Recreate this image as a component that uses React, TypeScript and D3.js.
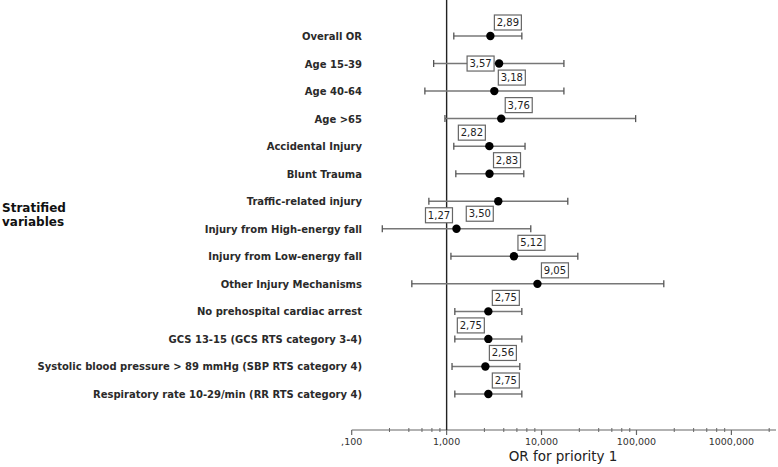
import { useEffect, useRef } from "react";
import * as d3 from "d3";

// rows, top to bottom
const categories = [
  "Overall OR",
  "Age 15-39",
  "Age 40-64",
  "Age >65",
  "Accidental Injury",
  "Blunt Trauma",
  "Traffic-related injury",
  "Injury from High-energy fall",
  "Injury from Low-energy fall",
  "Other Injury Mechanisms",
  "No prehospital cardiac arrest",
  "GCS 13-15 (GCS RTS category 3-4)",
  "Systolic blood pressure > 89 mmHg (SBP RTS category 4)",
  "Respiratory rate 10-29/min (RR RTS category 4)",
];
const oddsRatio = [2.89, 3.57, 3.18, 3.76, 2.82, 2.83, 3.5, 1.27, 5.12, 9.05, 2.75, 2.75, 2.56, 2.75];
const ciLower = [1.19, 0.73, 0.59, 0.96, 1.19, 1.25, 0.65, 0.21, 1.11, 0.43, 1.22, 1.22, 1.14, 1.22];
const ciUpper = [6.2, 17.2, 17.2, 98, 6.7, 6.5, 18.9, 7.7, 24.1, 194, 6.2, 6.2, 5.9, 6.2];
// where the value box sits next to its dot
const labelPlacement = ["ar", "l", "ar", "ar", "al", "ar", "bl", "al", "ar", "ar", "ar", "al", "ar", "ar"];

const tickValues = [0.1, 1, 10, 100, 1000];
const tickLabels = [",100", "1,000", "10,000", "100,000", "1000,000"];
const minorSteps = [2.5, 4, 5.5, 7, 8.5];

const fmt = (v: number) => v.toFixed(2).replace(".", ",");

export default function App() {
  const ref = useRef<SVGSVGElement>(null);

  useEffect(() => {
    const width = 778;
    const height = 467;
    const svg = d3.select(ref.current).attr("width", width).attr("height", height);
    svg.selectAll("*").remove();

    const font = "'DejaVu Sans', Verdana, sans-serif";
    const axisY = 430;

    const x = d3.scaleLog().domain([0.1, 2950]).range([351.7, 776]);
    const y = d3.scalePoint<string>().domain(categories).range([36, 394]);

    // x axis line + ticks
    svg.append("line")
      .attr("x1", x(0.1)).attr("x2", x(2950))
      .attr("y1", axisY).attr("y2", axisY)
      .attr("stroke", "#666").attr("stroke-width", 1.2);

    const minors: number[] = [];
    tickValues.forEach((t) => minorSteps.forEach((m) => {
      const v = t * m;
      if (v <= 2950) minors.push(v);
    }));
    svg.selectAll(".minor").data(minors).enter().append("line")
      .attr("x1", (d) => x(d)).attr("x2", (d) => x(d))
      .attr("y1", axisY - 2).attr("y2", axisY + 2)
      .attr("stroke", "#666").attr("stroke-width", 1);

    svg.selectAll(".major").data(tickValues).enter().append("line")
      .attr("x1", (d) => x(d)).attr("x2", (d) => x(d))
      .attr("y1", axisY).attr("y2", axisY + 5)
      .attr("stroke", "#666").attr("stroke-width", 1.2);

    svg.selectAll(".tickLabel").data(tickValues).enter().append("text")
      .attr("x", (d) => x(d)).attr("y", axisY + 15)
      .attr("text-anchor", "middle")
      .attr("font-family", font).attr("font-size", 9.5).attr("fill", "#333")
      .text((d, i) => tickLabels[i]);

    svg.append("text")
      .attr("x", 563).attr("y", 461)
      .attr("text-anchor", "middle")
      .attr("font-family", font).attr("font-size", 13.5).attr("fill", "#222")
      .text("OR for priority 1");

    // reference line at OR = 1
    svg.append("line")
      .attr("x1", x(1)).attr("x2", x(1))
      .attr("y1", 0).attr("y2", axisY)
      .attr("stroke", "#222").attr("stroke-width", 1.4);

    // row labels
    svg.selectAll(".rowLabel").data(categories).enter().append("text")
      .attr("x", 362).attr("y", (d) => y(d)! + 1)
      .attr("dominant-baseline", "middle")
      .attr("text-anchor", "end")
      .attr("font-family", font).attr("font-size", 10).attr("font-weight", "bold")
      .attr("fill", "#2a2a2a")
      .text((d) => d);

    svg.append("text")
      .attr("x", 2).attr("y", 212)
      .attr("font-family", font).attr("font-size", 12).attr("font-weight", "bold")
      .attr("fill", "#111")
      .selectAll("tspan").data(["Stratified", "variables"]).enter().append("tspan")
      .attr("x", 2).attr("dy", (d, i) => (i === 0 ? 0 : 14))
      .text((d) => d);

    // whiskers
    const rows = categories.map((c, i) => ({
      c, or: oddsRatio[i], lo: ciLower[i], hi: ciUpper[i], pos: labelPlacement[i],
    }));
    const g = svg.append("g");
    g.selectAll(".ci").data(rows).enter().append("line")
      .attr("x1", (d) => x(d.lo)).attr("x2", (d) => x(d.hi))
      .attr("y1", (d) => y(d.c)!).attr("y2", (d) => y(d.c)!)
      .attr("stroke", "#777").attr("stroke-width", 1.5);
    ["lo", "hi"].forEach((k) => {
      g.selectAll(".cap" + k).data(rows).enter().append("line")
        .attr("x1", (d: any) => x(d[k])).attr("x2", (d: any) => x(d[k]))
        .attr("y1", (d) => y(d.c)! - 3.5).attr("y2", (d) => y(d.c)! + 3.5)
        .attr("stroke", "#555").attr("stroke-width", 1.3);
    });
    g.selectAll(".dot").data(rows).enter().append("circle")
      .attr("cx", (d) => x(d.or)).attr("cy", (d) => y(d.c)!)
      .attr("r", 4.2).attr("fill", "#000");

    // value boxes
    const bw = 27;
    const bh = 15;
    const boxPos = (d: any) => {
      const cx = x(d.or);
      const cy = y(d.c)!;
      if (d.pos === "ar") return [cx + 4, cy - 6 - bh];
      if (d.pos === "al") return [cx - 4 - bw, cy - 6 - bh];
      if (d.pos === "l") return [cx - 5 - bw, cy - bh / 2];
      return [cx - 5 - bw, cy + 5];
    };
    const boxes = svg.selectAll(".box").data(rows).enter().append("g")
      .attr("transform", (d) => `translate(${boxPos(d)[0]},${boxPos(d)[1]})`);
    boxes.append("rect")
      .attr("width", bw).attr("height", bh)
      .attr("fill", "#fff").attr("stroke", "#666").attr("stroke-width", 1.2);
    boxes.append("text")
      .attr("x", bw / 2).attr("y", bh / 2 + 0.5)
      .attr("dominant-baseline", "middle").attr("text-anchor", "middle")
      .attr("font-family", font).attr("font-size", 10).attr("fill", "#222")
      .text((d) => fmt(d.or));
  }, []);

  return <svg ref={ref} style={{ position: "absolute", left: 0, top: 0 }}></svg>;
}
